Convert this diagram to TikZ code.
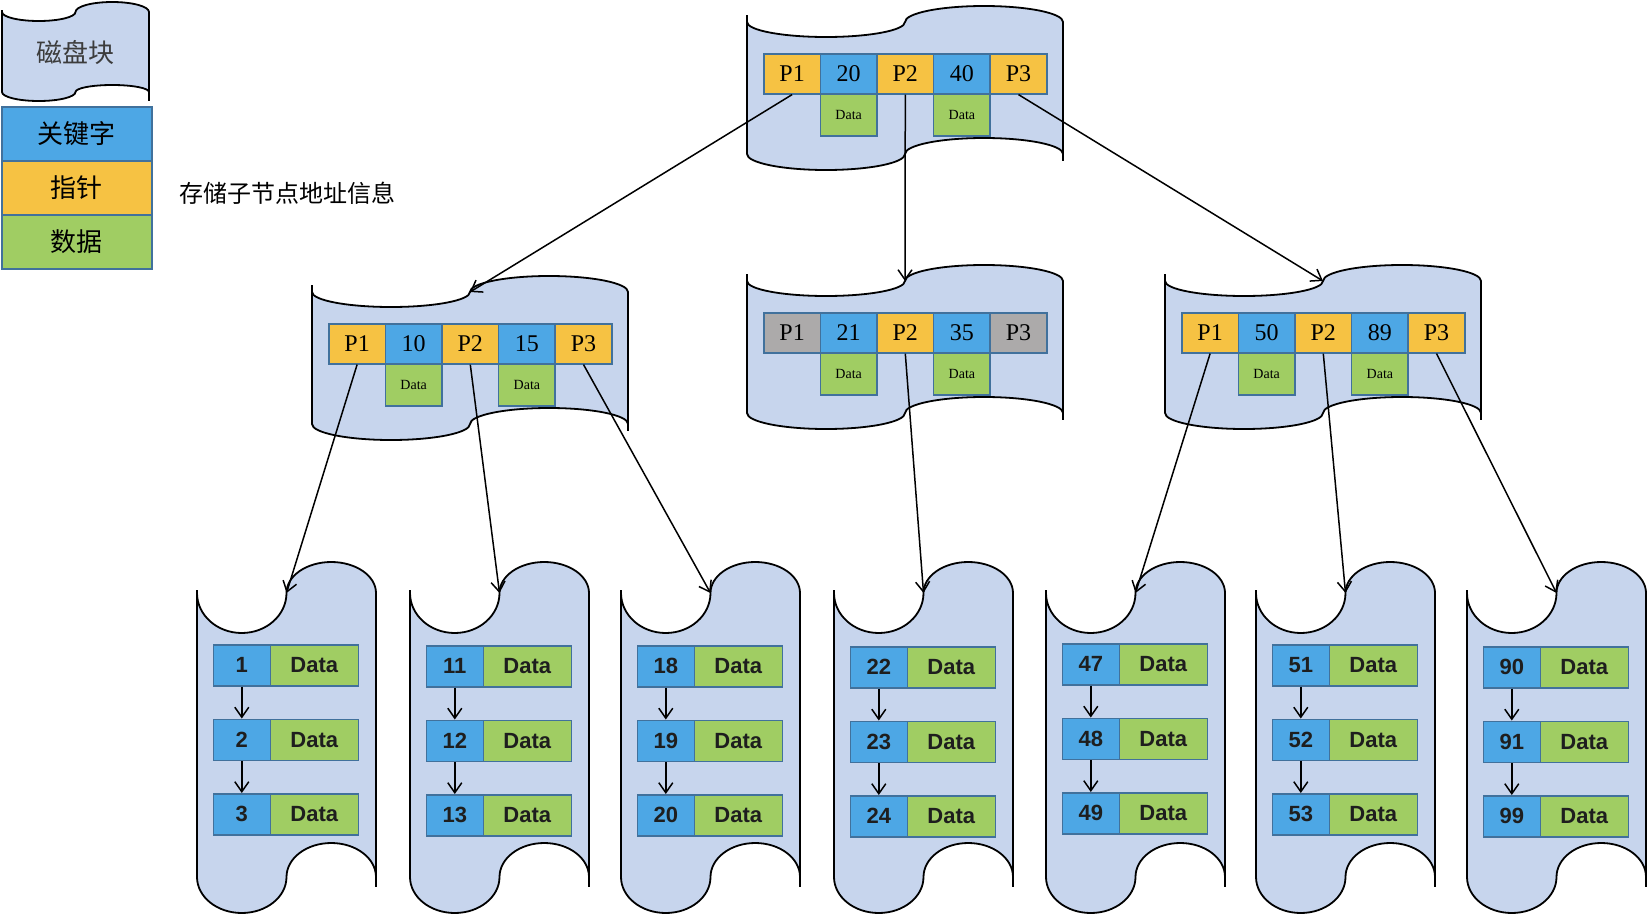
\documentclass[tikz,border=0pt]{standalone}
\usepackage{fontspec}
\newfontfamily\cjk{Noto Sans CJK SC}
\newfontfamily\lsans{Liberation Sans}
\newfontfamily\lserif{Liberation Serif}
\usetikzlibrary{arrows.meta}
\definecolor{diskfill}{RGB}{199,213,237}
\definecolor{keyblue}{RGB}{77,167,229}
\definecolor{ptryellow}{RGB}{246,194,67}
\definecolor{datagreen}{RGB}{160,205,99}
\definecolor{ptrgray}{RGB}{172,170,170}
\definecolor{cellborder}{RGB}{65,113,156}
\definecolor{textdark}{RGB}{30,30,30}
\definecolor{legendgray}{RGB}{60,60,60}
\tikzset{
  diskbody/.style={fill=diskfill, draw=black, line width=1.8pt, line join=round},
  diskline/.style={draw=black, line width=1.8pt},
  cell/.style={draw=cellborder, line width=1.6pt, minimum width=56.6pt, minimum height=40pt,
    inner sep=0pt, anchor=north west, font=\lserif\fontsize{24}{24}\selectfont},
  dcell/.style={cell, fill=datagreen, minimum height=42pt, font=\lserif\fontsize{14}{14}\selectfont},
  lcell/.style={draw=cellborder, line width=1.6pt, minimum height=41pt, inner sep=0pt,
    anchor=north west, text=textdark, font=\lsans\bfseries\fontsize{22}{22}\selectfont},
  lkey/.style={lcell, fill=keyblue, minimum width=57pt},
  ldata/.style={lcell, fill=datagreen, minimum width=88pt},
  legbox/.style={draw=cellborder, line width=1.6pt, minimum width=150pt, minimum height=54pt,
    inner sep=0pt, anchor=north west, font=\cjk\fontsize{26}{26}\selectfont},
  arr/.style={line width=1.5pt, -{Straight Barb[length=10pt,width=14pt,line width=1.5pt]}}
}
% extensions of the straight edges (top-left, bottom-right)
\newcommand{\tsET}{7}
\newcommand{\tsEB}{7}
% tape shape: L R y0 y1 topTrough topCrest botBulge botCup
\newcommand{\tapeshape}[8]{%
\pgfmathsetmacro\tsL{#1}%
\pgfmathsetmacro\tsR{#2}%
\pgfmathsetmacro\tsY{#3}%
\pgfmathsetmacro\tsZ{#4}%
\pgfmathsetmacro\tsa{#5}%
\pgfmathsetmacro\tsb{#6}%
\pgfmathsetmacro\tsc{#7}%
\pgfmathsetmacro\tsd{#8}%
\pgfmathsetmacro\tsq{(\tsR-\tsL)/4}%
\pgfmathsetmacro\tsk{0.5523*\tsq}%
\pgfmathsetmacro\tsM{\tsL+2*\tsq}%
\pgfmathsetmacro\tsP{\tsL+\tsq}%
\pgfmathsetmacro\tsQ{\tsL+3*\tsq}%
\path[diskbody] (\tsL,\tsY)
  .. controls (\tsL,{\tsY+0.5523*\tsa}) and ({\tsP-\tsk},{\tsY+\tsa}) .. (\tsP,{\tsY+\tsa})
  .. controls ({\tsP+\tsk},{\tsY+\tsa}) and (\tsM,{\tsY+0.5523*\tsa}) .. (\tsM,\tsY)
  .. controls (\tsM,{\tsY-0.5523*\tsb}) and ({\tsQ-\tsk},{\tsY-\tsb}) .. (\tsQ,{\tsY-\tsb})
  .. controls ({\tsQ+\tsk},{\tsY-\tsb}) and (\tsR,{\tsY-0.5523*\tsb}) .. (\tsR,\tsY)
  -- (\tsR,\tsZ)
  .. controls (\tsR,{\tsZ-0.5523*\tsd}) and ({\tsQ+\tsk},{\tsZ-\tsd}) .. (\tsQ,{\tsZ-\tsd})
  .. controls ({\tsQ-\tsk},{\tsZ-\tsd}) and (\tsM,{\tsZ-0.5523*\tsd}) .. (\tsM,\tsZ)
  .. controls (\tsM,{\tsZ+0.5523*\tsc}) and ({\tsP+\tsk},{\tsZ+\tsc}) .. (\tsP,{\tsZ+\tsc})
  .. controls ({\tsP-\tsk},{\tsZ+\tsc}) and (\tsL,{\tsZ+0.5523*\tsc}) .. (\tsL,\tsZ)
  -- cycle;
\draw[diskline] (\tsL,{\tsY-\tsET}) -- (\tsL,\tsY);
\draw[diskline] (\tsR,\tsZ) -- (\tsR,{\tsZ+\tsEB});
}
% index block: prefix dx dy key1 key2 outer-pointer-colour
\newcommand{\diskblock}[6]{%
\renewcommand{\tsET}{7}\renewcommand{\tsEB}{7}%
\tapeshape{747+(#2)}{1063+(#2)}{22+(#3)}{154+(#3)}{15}{16}{16}{16}
\coordinate (#1s) at ({905+(#2)},{22+(#3)});
\node[cell, fill=#6] (#1a) at ({763+(#2)},{53+(#3)}) {P1};
\node[cell, fill=keyblue] (#1b) at ({819.6+(#2)},{53+(#3)}) {#4};
\node[cell, fill=ptryellow] (#1c) at ({876.2+(#2)},{53+(#3)}) {P2};
\node[cell, fill=keyblue] (#1d) at ({932.8+(#2)},{53+(#3)}) {#5};
\node[cell, fill=#6] (#1e) at ({989.4+(#2)},{53+(#3)}) {P3};
\node[dcell] (#1bd) at ({819.6+(#2)},{93+(#3)}) {Data};
\node[dcell] (#1dd) at ({932.8+(#2)},{93+(#3)}) {Data};
}
% leaf block: prefix left-x row-offset k1 k2 k3
\newcommand{\leafblock}[6]{%
\renewcommand{\tsET}{3}\renewcommand{\tsEB}{10}%
\tapeshape{#2}{#2+179}{593}{877}{40}{31}{36}{34}
\coordinate (#1s) at ({#2+89.5},593);
\node[lkey] (#1k1) at ({#2+15.5},{644+(#3)}) {#4};
\node[ldata] (#1d1) at ({#2+72.5},{644+(#3)}) {Data};
\node[lkey] (#1k2) at ({#2+15.5},{718.5+(#3)}) {#5};
\node[ldata] (#1d2) at ({#2+72.5},{718.5+(#3)}) {Data};
\node[lkey] (#1k3) at ({#2+15.5},{793+(#3)}) {#6};
\node[ldata] (#1d3) at ({#2+72.5},{793+(#3)}) {Data};
\draw[arr] (#1k1) -- (#1k2);
\draw[arr] (#1k2) -- (#1k3);
}
\begin{document}
\begin{tikzpicture}[x=1pt,y=-1pt]
\useasboundingbox (0,0) rectangle (1650,918);
% legend
\renewcommand{\tsET}{2}\renewcommand{\tsEB}{9}%
\tapeshape{2}{149}{12}{92}{9}{10}{9}{7}
\node[font=\cjk\fontsize{26}{26}\selectfont, text=legendgray] (lgdisk) at (75,53) {磁盘块};
\node[legbox, fill=keyblue] (lgkey) at (1,106) {关键字};
\node[legbox, fill=ptryellow] (lgptr) at (1,160) {指针};
\node[legbox, fill=datagreen] (lgdata) at (1,214) {数据};
\node[anchor=west, inner sep=0pt, font=\cjk\fontsize{24}{24}\selectfont] (lgnote) at (179,193) {存储子节点地址信息};
% index blocks
\diskblock{R}{0}{0}{20}{40}{ptryellow}
\diskblock{A}{-435}{270}{10}{15}{ptryellow}
\diskblock{B}{0}{259}{21}{35}{ptrgray}
\diskblock{C}{418}{259}{50}{89}{ptryellow}
% leaves
\leafblock{La}{197}{0}{1}{2}{3}
\leafblock{Lb}{410}{1}{11}{12}{13}
\leafblock{Lc}{621}{1}{18}{19}{20}
\leafblock{Ld}{834}{2}{22}{23}{24}
\leafblock{Le}{1046}{-1}{47}{48}{49}
\leafblock{Lf}{1256}{0}{51}{52}{53}
\leafblock{Lg}{1467}{2}{90}{91}{99}
% pointers
\draw[arr] (Ra.south) -- (As);
\draw[arr] (Rc.south) -- (Bs);
\draw[arr] (Re.south) -- (Cs);
\draw[arr] (Aa.south) -- (Las);
\draw[arr] (Ac.south) -- (Lbs);
\draw[arr] (Ae.south) -- (Lcs);
\draw[arr] (Bc.south) -- (Lds);
\draw[arr] (Ca.south) -- (Les);
\draw[arr] (Cc.south) -- (Lfs);
\draw[arr] (Ce.south) -- (Lgs);
\end{tikzpicture}
\end{document}
